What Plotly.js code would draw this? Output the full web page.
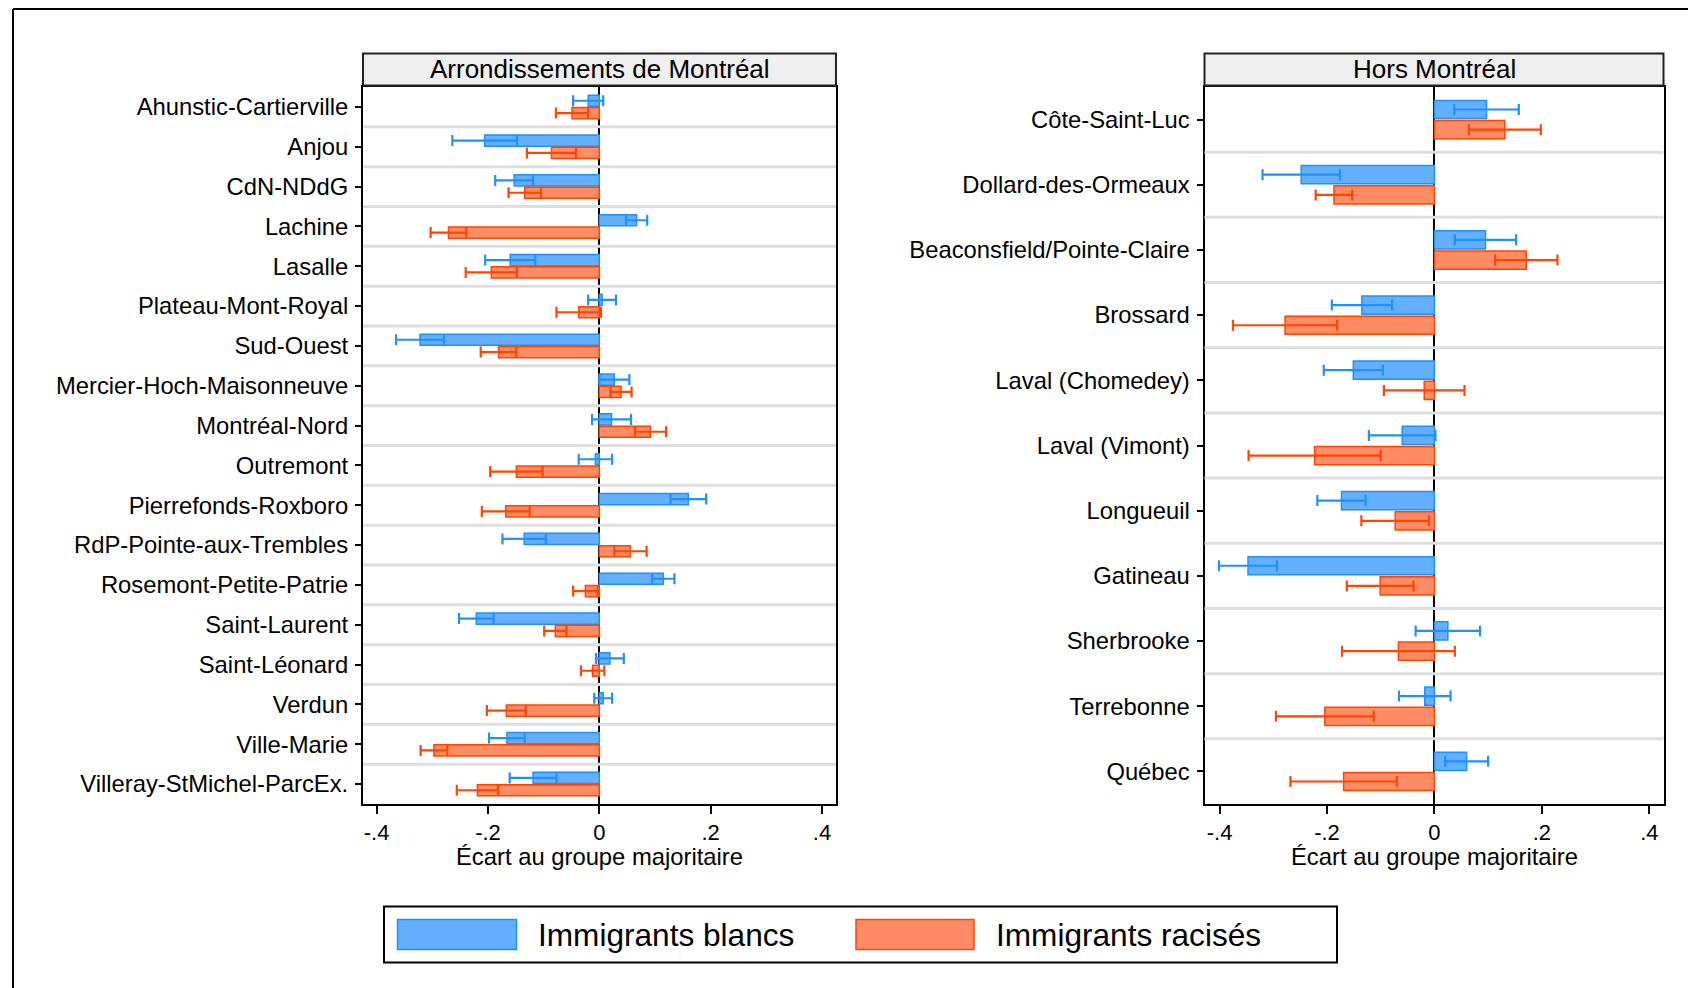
<!DOCTYPE html>
<html>
<head>
<meta charset="utf-8">
<script src="https://cdn.plot.ly/plotly-3.0.1.min.js"></script>
<style>html,body{margin:0;padding:0;background:#fff;}#chart{width:1688px;height:988px;}</style>
</head>
<body>
<div id="chart"></div>
<script>
// ---------- DATA ----------
const leftCats = ['Ahunstic-Cartierville','Anjou','CdN-NDdG','Lachine','Lasalle','Plateau-Mont-Royal','Sud-Ouest','Mercier-Hoch-Maisonneuve','Montréal-Nord','Outremont','Pierrefonds-Roxboro','RdP-Pointe-aux-Trembles','Rosemont-Petite-Patrie','Saint-Laurent','Saint-Léonard','Verdun','Ville-Marie','Villeray-StMichel-ParcEx.'];
const leftBlancs     = [-0.020,-0.206,-0.153, 0.067,-0.160, 0.005,-0.322, 0.027, 0.022,-0.007, 0.160,-0.135, 0.115,-0.221, 0.019, 0.007,-0.166,-0.119];
const leftBlancsErr  = [ 0.027, 0.058, 0.034, 0.019, 0.045, 0.025, 0.043, 0.027, 0.035, 0.030, 0.032, 0.039, 0.020, 0.031, 0.025, 0.016, 0.032, 0.042];
const leftRacises    = [-0.049,-0.086,-0.134,-0.271,-0.194,-0.037,-0.181, 0.039, 0.092,-0.149,-0.168, 0.056,-0.025,-0.079,-0.012,-0.167,-0.297,-0.219];
const leftRacisesErr = [ 0.029, 0.044, 0.029, 0.032, 0.046, 0.040, 0.032, 0.019, 0.028, 0.047, 0.043, 0.029, 0.022, 0.020, 0.021, 0.035, 0.024, 0.037];

const rightCats = ['Côte-Saint-Luc','Dollard-des-Ormeaux','Beaconsfield/Pointe-Claire','Brossard','Laval (Chomedey)','Laval (Vimont)','Longueuil','Gatineau','Sherbrooke','Terrebonne','Québec'];
const rightBlancs     = [ 0.097,-0.248, 0.095,-0.135,-0.151,-0.060,-0.173,-0.347, 0.025,-0.018, 0.060];
const rightBlancsErr  = [ 0.060, 0.072, 0.057, 0.056, 0.055, 0.062, 0.045, 0.054, 0.060, 0.048, 0.040];
const rightRacises    = [ 0.131,-0.187, 0.171,-0.278,-0.019,-0.223,-0.073,-0.101,-0.067,-0.204,-0.169];
const rightRacisesErr = [ 0.067, 0.034, 0.058, 0.097, 0.075, 0.123, 0.063, 0.062, 0.105, 0.091, 0.099];

const tickVals = [-0.4,-0.2,0,0.2,0.4];
const tickText = ['-.4','-.2','0','.2','.4'];
const panelTitles = ['Arrondissements de Montréal','Hors Montréal'];
const seriesNames = ['Immigrants blancs','Immigrants racisés'];
const axisTitle = 'Écart au groupe majoritaire';

// ---------- STYLE ----------
const W = 1688, H = 988;
const px = x => x / W;
const py = y => 1 - y / H;
const BLUE = '#1e90ff', BLUE_FILL = '#64b0ff';
const ORANGE = '#ff4500', ORANGE_FILL = '#ff8c64';
const FONT = 'Liberation Sans, Arial, sans-serif';
const LBL = 23.8;

function barTrace(cats, vals, errs, name, line, fill, xa, ya) {
  return {
    type: 'bar', orientation: 'h', y: cats, x: vals, name: name,
    xaxis: xa, yaxis: ya, showlegend: false,
    marker: {color: fill, line: {color: line, width: 1.5}},
    error_x: {type: 'data', array: errs, visible: true, color: line, thickness: 2.2, width: 5.5}
  };
}

const data = [
  barTrace(leftCats, leftBlancs, leftBlancsErr, seriesNames[0], BLUE, BLUE_FILL, 'x', 'y'),
  barTrace(leftCats, leftRacises, leftRacisesErr, seriesNames[1], ORANGE, ORANGE_FILL, 'x', 'y'),
  barTrace(rightCats, rightBlancs, rightBlancsErr, seriesNames[0], BLUE, BLUE_FILL, 'x2', 'y2'),
  barTrace(rightCats, rightRacises, rightRacisesErr, seriesNames[1], ORANGE, ORANGE_FILL, 'x2', 'y2')
];

function xAxis(domain, anchor, range) {
  return {
    domain: domain, anchor: anchor, range: range,
    tickmode: 'array', tickvals: tickVals, ticktext: tickText,
    ticks: 'outside', ticklen: 8, tickwidth: 2, tickcolor: '#000',
    ticklabelstandoff: 0,
    tickfont: {size: 22, color: '#000'},
    showline: true, linecolor: '#000', linewidth: 2, mirror: true,
    showgrid: false, zeroline: true, zerolinecolor: '#000', zerolinewidth: 2,
    automargin: false, fixedrange: true
  };
}
function yAxis(domain, anchor, cats) {
  return {
    domain: domain, anchor: anchor, type: 'category',
    categoryorder: 'array', categoryarray: cats,
    range: [cats.length - 0.5, -0.5],
    ticks: 'outside', ticklen: 6, tickwidth: 2, tickcolor: '#000',
    ticklabelstandoff: 2,
    tickfont: {size: LBL, color: '#000'},
    showline: true, linecolor: '#000', linewidth: 2, mirror: true,
    showgrid: false, zeroline: false, automargin: false, fixedrange: true
  };
}

const yDom = [py(804), py(87)];
const leftX = [363, 836], rightX = [1204.5, 1663.5];

const shapes = [];
const annotations = [];

// row separators
function separators(n, xref, yref) {
  for (let i = 0; i < n - 1; i++) {
    shapes.push({type: 'line', xref: xref, yref: yref, x0: 0, x1: 1, y0: i + 0.5, y1: i + 0.5,
      line: {color: '#dedede', width: 3}, layer: 'above'});
  }
}
separators(leftCats.length, 'x domain', 'y');
separators(rightCats.length, 'x2 domain', 'y2');

// panel headers + axis titles
[[leftX, panelTitles[0]], [rightX, panelTitles[1]]].forEach(([xs, t]) => {
  shapes.push({type: 'rect', xref: 'paper', yref: 'paper', x0: px(xs[0]), x1: px(xs[1]),
    y0: py(85.5), y1: py(53.5), fillcolor: '#efefef', line: {color: '#222', width: 2}});
  annotations.push({xref: 'paper', yref: 'paper', x: px((xs[0] + xs[1]) / 2), y: py(69.5),
    xanchor: 'center', yanchor: 'middle', showarrow: false, text: t,
    font: {size: 26, color: '#000'}});
  annotations.push({xref: 'paper', yref: 'paper', x: px((xs[0] + xs[1]) / 2), y: py(856),
    xanchor: 'center', yanchor: 'middle', showarrow: false, text: axisTitle,
    font: {size: LBL, color: '#000'}});
});

// outer frame
shapes.push({type: 'line', xref: 'paper', yref: 'paper', x0: px(13), x1: px(13), y0: py(9), y1: py(1000), line: {color: '#000', width: 2}});
shapes.push({type: 'line', xref: 'paper', yref: 'paper', x0: px(13), x1: px(1700), y0: py(9), y1: py(9), line: {color: '#000', width: 2}});

// legend
shapes.push({type: 'rect', xref: 'paper', yref: 'paper', x0: px(384), x1: px(1337), y0: py(962.5), y1: py(906.5),
  line: {color: '#000', width: 2}});
shapes.push({type: 'rect', xref: 'paper', yref: 'paper', x0: px(397.5), x1: px(516.5), y0: py(949.5), y1: py(919.5),
  fillcolor: BLUE_FILL, line: {color: BLUE, width: 1.5}});
shapes.push({type: 'rect', xref: 'paper', yref: 'paper', x0: px(856), x1: px(974), y0: py(949.5), y1: py(919.5),
  fillcolor: ORANGE_FILL, line: {color: ORANGE, width: 1.5}});
annotations.push({xref: 'paper', yref: 'paper', x: px(536), y: py(935), xanchor: 'left', yanchor: 'middle',
  showarrow: false, text: seriesNames[0], font: {size: 31.6, color: '#000'}});
annotations.push({xref: 'paper', yref: 'paper', x: px(994), y: py(935), xanchor: 'left', yanchor: 'middle',
  showarrow: false, text: seriesNames[1], font: {size: 31.6, color: '#000'}});

const layout = {
  width: W, height: H,
  margin: {l: 0, r: 0, t: 0, b: 0, pad: 0},
  paper_bgcolor: '#fff', plot_bgcolor: '#fff',
  font: {family: FONT, color: '#000'},
  barmode: 'group', bargap: 0.38, bargroupgap: 0.1,
  showlegend: false,
  xaxis: xAxis([px(leftX[0]), px(leftX[1])], 'y', [-0.4245, 0.4252]),
  yaxis: yAxis(yDom, 'x', leftCats),
  xaxis2: xAxis([px(rightX[0]), px(rightX[1])], 'y2', [-0.428, 0.4264]),
  yaxis2: yAxis(yDom, 'x2', rightCats),
  shapes: shapes,
  annotations: annotations
};

Plotly.newPlot('chart', data, layout, {displayModeBar: false, staticPlot: true});
</script>
</body>
</html>
